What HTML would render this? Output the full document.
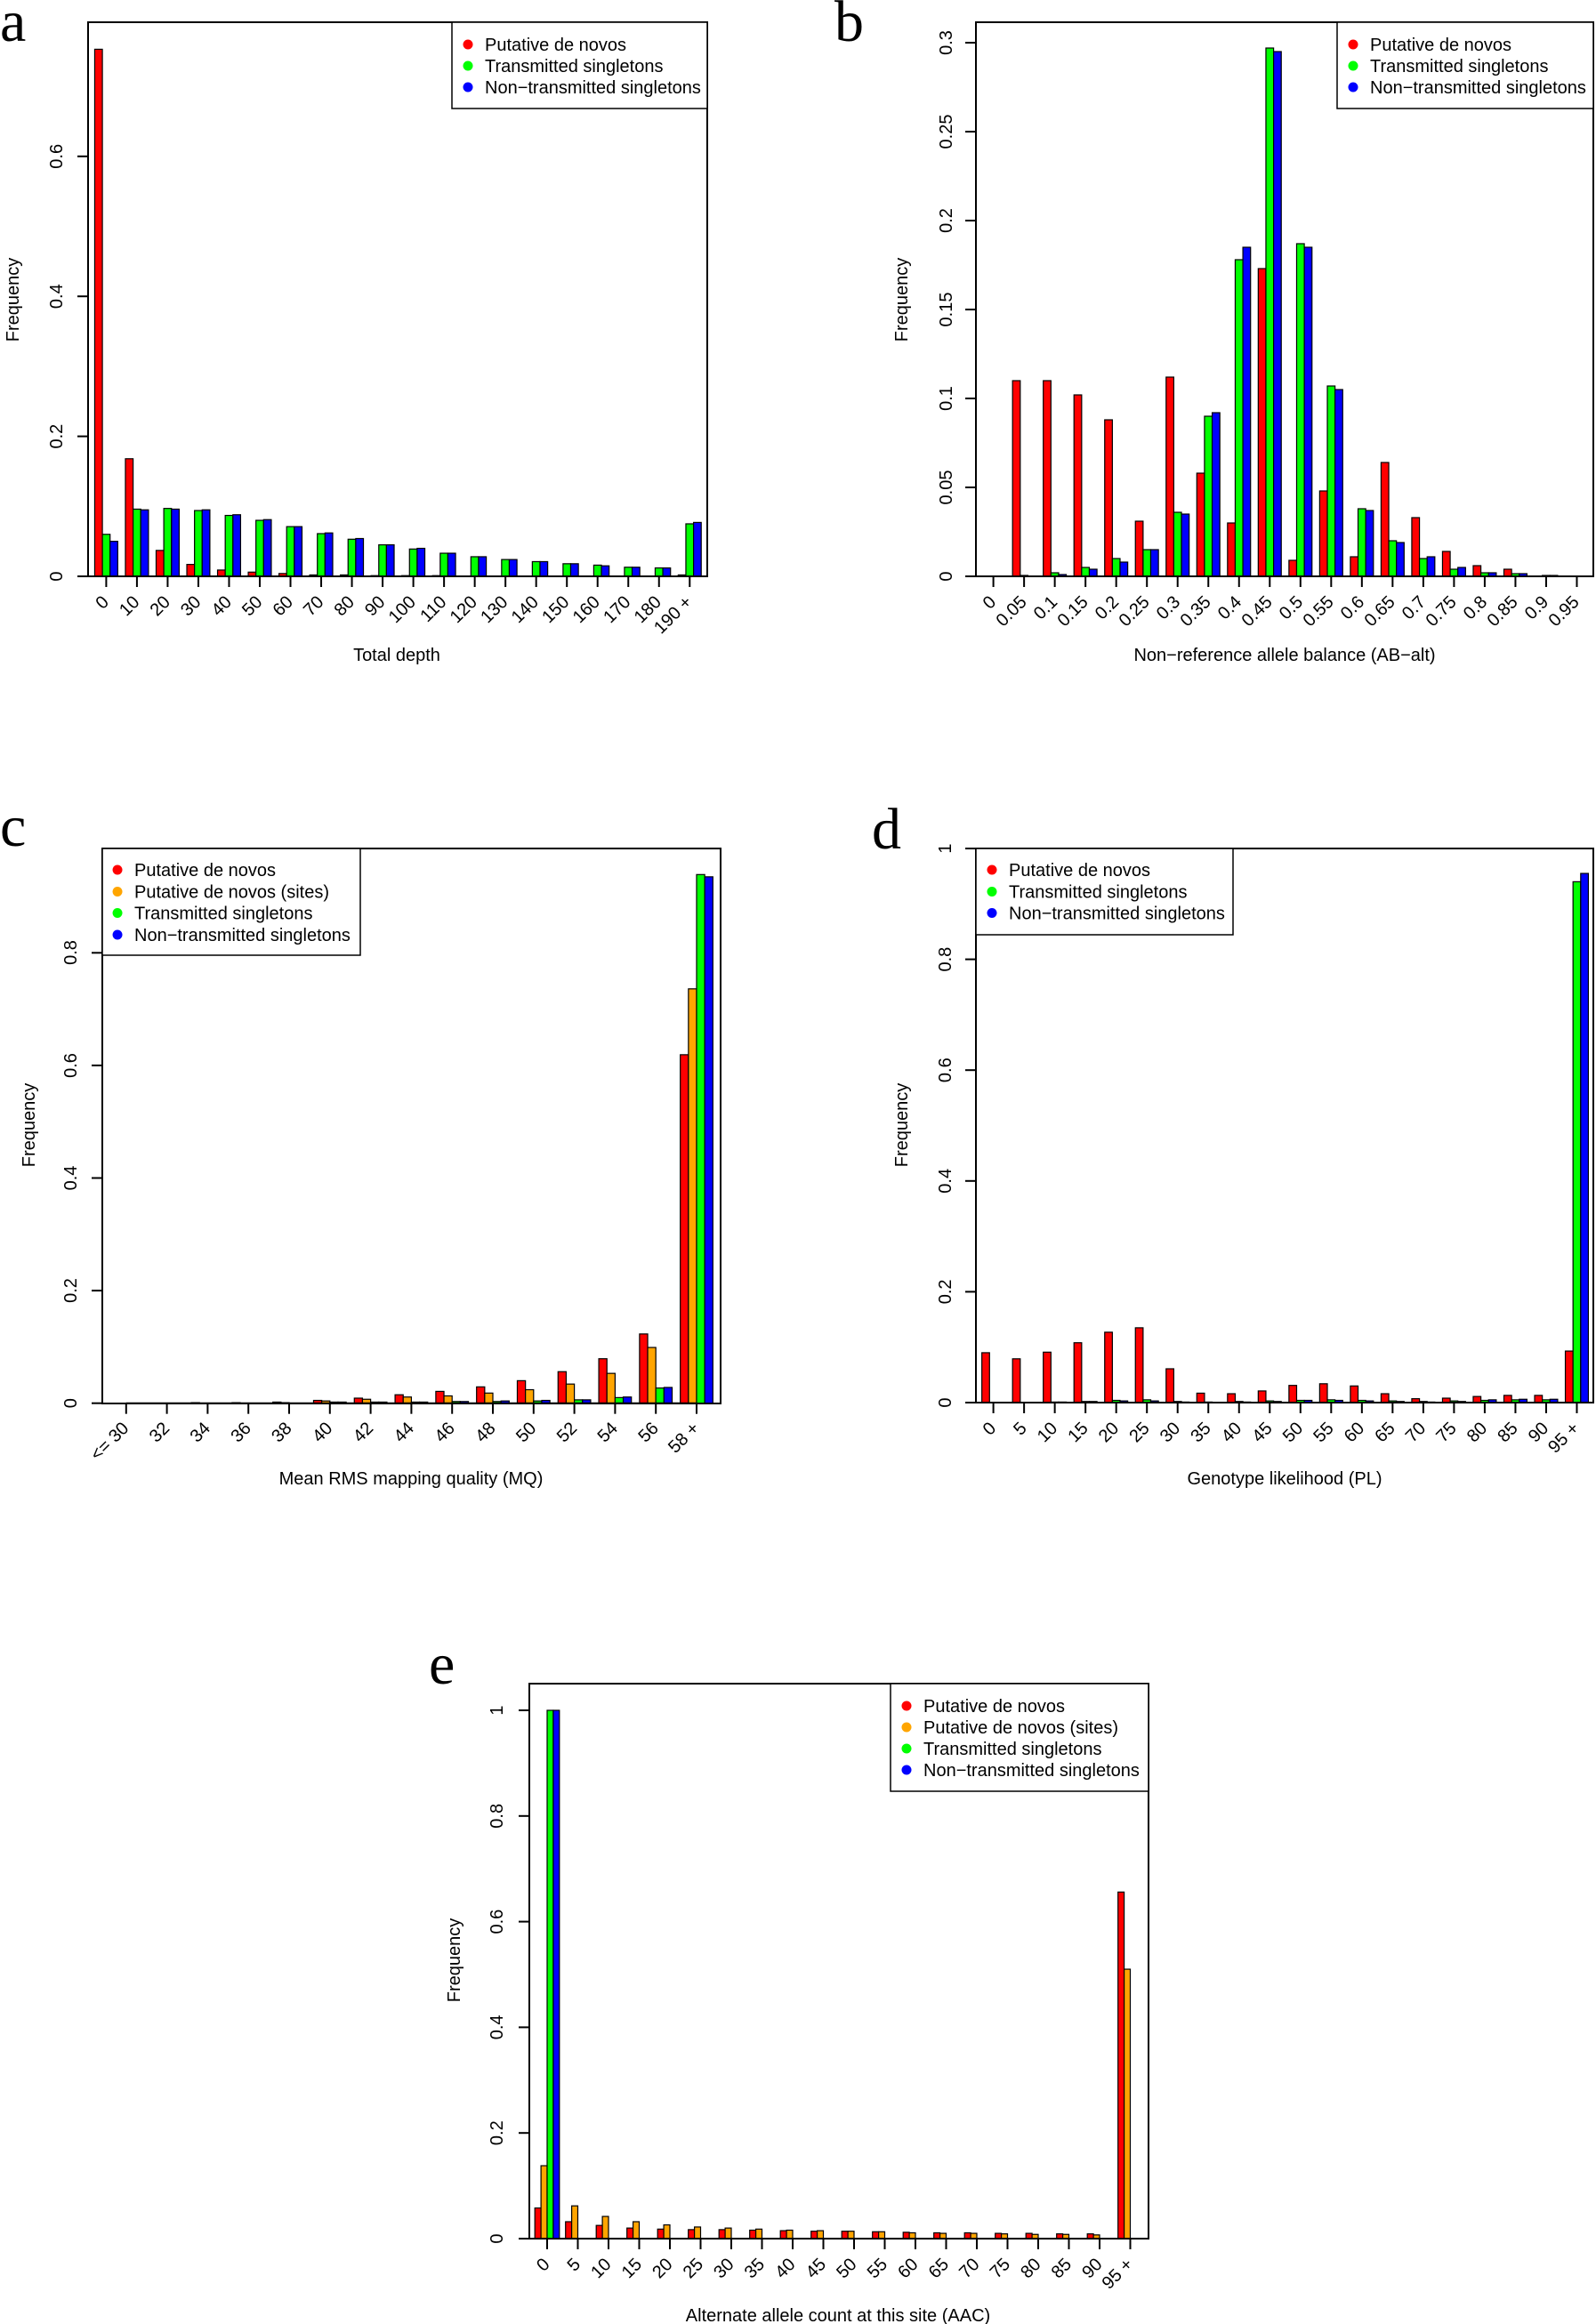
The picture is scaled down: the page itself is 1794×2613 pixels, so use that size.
<!DOCTYPE html>
<html><head><meta charset="utf-8"><style>
html,body{margin:0;padding:0;background:#fff;}
svg{display:block;}
text{font-family:"Liberation Sans",Arial,sans-serif;font-size:20px;fill:#000;}
.xt{text-anchor:end;}
.yt{text-anchor:middle;}
.mid{text-anchor:middle;}
.big{font-family:"Liberation Serif",serif;font-size:66px;}
</style></head><body>
<svg id="s" width="1794" height="2613" viewBox="0 0 1794 2613" xmlns="http://www.w3.org/2000/svg">
<rect width="1794" height="2613" fill="#fff"/>
<g id="bars"></g>
<g fill="none" stroke="#000" stroke-width="2">
<rect x="99" y="25" width="696" height="623"/>
<rect x="1097" y="25" width="694" height="623"/>
<rect x="115" y="954" width="695" height="624"/>
<rect x="1097" y="954" width="694" height="623"/>
<rect x="595" y="1893" width="696" height="624"/>
</g>
<!-- panel letters -->
<text class="big" x="0" y="46">a</text>
<text class="big" x="938" y="46">b</text>
<text class="big" x="0" y="951">c</text>
<text class="big" x="980" y="954">d</text>
<text class="big" x="482" y="1893">e</text>

<!-- legends -->
<g fill="#fff" stroke="#000" stroke-width="1.5">
<rect x="508" y="25" width="287" height="97"/>
<rect x="1503" y="25" width="288" height="97"/>
<rect x="115" y="954" width="290" height="120"/>
<rect x="1097" y="954" width="289" height="97"/>
<rect x="1001" y="1893" width="290" height="121"/>
</g>
<g>
<circle cx="526" cy="50" r="5.5" fill="#f00"/><circle cx="526" cy="74" r="5.5" fill="#0f0"/><circle cx="526" cy="98" r="5.5" fill="#00f"/>
<circle cx="1521" cy="50" r="5.5" fill="#f00"/><circle cx="1521" cy="74" r="5.5" fill="#0f0"/><circle cx="1521" cy="98" r="5.5" fill="#00f"/>
<circle cx="132" cy="978" r="5.5" fill="#f00"/><circle cx="132" cy="1002.5" r="5.5" fill="#ffa500"/><circle cx="132" cy="1026.5" r="5.5" fill="#0f0"/><circle cx="132" cy="1051" r="5.5" fill="#00f"/>
<circle cx="1115" cy="978" r="5.5" fill="#f00"/><circle cx="1115" cy="1002.5" r="5.5" fill="#0f0"/><circle cx="1115" cy="1026.5" r="5.5" fill="#00f"/>
<circle cx="1019" cy="1918" r="5.5" fill="#f00"/><circle cx="1019" cy="1942" r="5.5" fill="#ffa500"/><circle cx="1019" cy="1966" r="5.5" fill="#0f0"/><circle cx="1019" cy="1990" r="5.5" fill="#00f"/>
</g>
<text x="545" y="57">Putative de novos</text>
<text x="545" y="81">Transmitted singletons</text>
<text x="545" y="105">Non−transmitted singletons</text>
<text x="1540" y="57">Putative de novos</text>
<text x="1540" y="81">Transmitted singletons</text>
<text x="1540" y="105">Non−transmitted singletons</text>
<text x="151" y="985">Putative de novos</text>
<text x="151" y="1009.5">Putative de novos (sites)</text>
<text x="151" y="1033.5">Transmitted singletons</text>
<text x="151" y="1058">Non−transmitted singletons</text>
<text x="1134" y="985">Putative de novos</text>
<text x="1134" y="1009.5">Transmitted singletons</text>
<text x="1134" y="1033.5">Non−transmitted singletons</text>
<text x="1038" y="1925">Putative de novos</text>
<text x="1038" y="1949">Putative de novos (sites)</text>
<text x="1038" y="1973">Transmitted singletons</text>
<text x="1038" y="1997">Non−transmitted singletons</text>

<!-- axis titles -->
<text class="mid" transform="translate(21,337) rotate(-90)">Frequency</text>
<text class="mid" transform="translate(1020,337) rotate(-90)">Frequency</text>
<text class="mid" transform="translate(39,1265) rotate(-90)">Frequency</text>
<text class="mid" transform="translate(1020,1265) rotate(-90)">Frequency</text>
<text class="mid" transform="translate(517,2204) rotate(-90)">Frequency</text>
<text class="mid" x="446" y="743">Total depth</text>
<text class="mid" x="1444" y="743">Non−reference allele balance (AB−alt)</text>
<text class="mid" x="462" y="1669">Mean RMS mapping quality (MQ)</text>
<text class="mid" x="1444" y="1669">Genotype likelihood (PL)</text>
<text class="mid" x="942" y="2610">Alternate allele count at this site (AAC)</text>

<!-- y tick labels -->
<text class="yt" transform="translate(70,648) rotate(-90)">0</text>
<text class="yt" transform="translate(70,490.6) rotate(-90)">0.2</text>
<text class="yt" transform="translate(70,333.2) rotate(-90)">0.4</text>
<text class="yt" transform="translate(70,175.8) rotate(-90)">0.6</text>

<text class="yt" transform="translate(1070,648) rotate(-90)">0</text>
<text class="yt" transform="translate(1070,548) rotate(-90)">0.05</text>
<text class="yt" transform="translate(1070,448) rotate(-90)">0.1</text>
<text class="yt" transform="translate(1070,348) rotate(-90)">0.15</text>
<text class="yt" transform="translate(1070,248) rotate(-90)">0.2</text>
<text class="yt" transform="translate(1070,148) rotate(-90)">0.25</text>
<text class="yt" transform="translate(1070,48) rotate(-90)">0.3</text>

<text class="yt" transform="translate(86,1577.7) rotate(-90)">0</text>
<text class="yt" transform="translate(86,1451) rotate(-90)">0.2</text>
<text class="yt" transform="translate(86,1324.5) rotate(-90)">0.4</text>
<text class="yt" transform="translate(86,1198) rotate(-90)">0.6</text>
<text class="yt" transform="translate(86,1071) rotate(-90)">0.8</text>

<text class="yt" transform="translate(1069,1577) rotate(-90)">0</text>
<text class="yt" transform="translate(1069,1452.4) rotate(-90)">0.2</text>
<text class="yt" transform="translate(1069,1327.8) rotate(-90)">0.4</text>
<text class="yt" transform="translate(1069,1203.2) rotate(-90)">0.6</text>
<text class="yt" transform="translate(1069,1078.6) rotate(-90)">0.8</text>
<text class="yt" transform="translate(1069,954) rotate(-90)">1</text>

<text class="yt" transform="translate(565,2517) rotate(-90)">0</text>
<text class="yt" transform="translate(565,2398.2) rotate(-90)">0.2</text>
<text class="yt" transform="translate(565,2279.4) rotate(-90)">0.4</text>
<text class="yt" transform="translate(565,2160.6) rotate(-90)">0.6</text>
<text class="yt" transform="translate(565,2041.8) rotate(-90)">0.8</text>
<text class="yt" transform="translate(565,1923) rotate(-90)">1</text>

<!-- x tick labels a -->
<text class="xt" transform="translate(123.4,678) rotate(-45)">0</text>
<text class="xt" transform="translate(157.9,678) rotate(-45)">10</text>
<text class="xt" transform="translate(192.4,678) rotate(-45)">20</text>
<text class="xt" transform="translate(226.9,678) rotate(-45)">30</text>
<text class="xt" transform="translate(261.4,678) rotate(-45)">40</text>
<text class="xt" transform="translate(295.9,678) rotate(-45)">50</text>
<text class="xt" transform="translate(330.4,678) rotate(-45)">60</text>
<text class="xt" transform="translate(364.9,678) rotate(-45)">70</text>
<text class="xt" transform="translate(399.4,678) rotate(-45)">80</text>
<text class="xt" transform="translate(433.9,678) rotate(-45)">90</text>
<text class="xt" transform="translate(468.4,678) rotate(-45)">100</text>
<text class="xt" transform="translate(502.9,678) rotate(-45)">110</text>
<text class="xt" transform="translate(537.4,678) rotate(-45)">120</text>
<text class="xt" transform="translate(571.9,678) rotate(-45)">130</text>
<text class="xt" transform="translate(606.4,678) rotate(-45)">140</text>
<text class="xt" transform="translate(640.9,678) rotate(-45)">150</text>
<text class="xt" transform="translate(675.4,678) rotate(-45)">160</text>
<text class="xt" transform="translate(709.9,678) rotate(-45)">170</text>
<text class="xt" transform="translate(744.4,678) rotate(-45)">180</text>
<text class="xt" transform="translate(778.9,678) rotate(-45)">190 +</text>
<!-- b -->
<text class="xt" transform="translate(1120.6,678) rotate(-45)">0</text>
<text class="xt" transform="translate(1155.1,678) rotate(-45)">0.05</text>
<text class="xt" transform="translate(1189.6,678) rotate(-45)">0.1</text>
<text class="xt" transform="translate(1224.1,678) rotate(-45)">0.15</text>
<text class="xt" transform="translate(1258.6,678) rotate(-45)">0.2</text>
<text class="xt" transform="translate(1293.1,678) rotate(-45)">0.25</text>
<text class="xt" transform="translate(1327.6,678) rotate(-45)">0.3</text>
<text class="xt" transform="translate(1362.1,678) rotate(-45)">0.35</text>
<text class="xt" transform="translate(1396.6,678) rotate(-45)">0.4</text>
<text class="xt" transform="translate(1431.1,678) rotate(-45)">0.45</text>
<text class="xt" transform="translate(1465.6,678) rotate(-45)">0.5</text>
<text class="xt" transform="translate(1500.1,678) rotate(-45)">0.55</text>
<text class="xt" transform="translate(1534.6,678) rotate(-45)">0.6</text>
<text class="xt" transform="translate(1569.1,678) rotate(-45)">0.65</text>
<text class="xt" transform="translate(1603.6,678) rotate(-45)">0.7</text>
<text class="xt" transform="translate(1638.1,678) rotate(-45)">0.75</text>
<text class="xt" transform="translate(1672.6,678) rotate(-45)">0.8</text>
<text class="xt" transform="translate(1707.1,678) rotate(-45)">0.85</text>
<text class="xt" transform="translate(1741.6,678) rotate(-45)">0.9</text>
<text class="xt" transform="translate(1776.1,678) rotate(-45)">0.95</text>
<!-- c -->
<text class="xt" transform="translate(145.8,1607) rotate(-45)">&lt;= 30</text>
<text class="xt" transform="translate(191.6,1607) rotate(-45)">32</text>
<text class="xt" transform="translate(237.4,1607) rotate(-45)">34</text>
<text class="xt" transform="translate(283.2,1607) rotate(-45)">36</text>
<text class="xt" transform="translate(329,1607) rotate(-45)">38</text>
<text class="xt" transform="translate(374.8,1607) rotate(-45)">40</text>
<text class="xt" transform="translate(420.6,1607) rotate(-45)">42</text>
<text class="xt" transform="translate(466.4,1607) rotate(-45)">44</text>
<text class="xt" transform="translate(512.2,1607) rotate(-45)">46</text>
<text class="xt" transform="translate(558,1607) rotate(-45)">48</text>
<text class="xt" transform="translate(603.8,1607) rotate(-45)">50</text>
<text class="xt" transform="translate(649.6,1607) rotate(-45)">52</text>
<text class="xt" transform="translate(695.4,1607) rotate(-45)">54</text>
<text class="xt" transform="translate(741.2,1607) rotate(-45)">56</text>
<text class="xt" transform="translate(787,1607) rotate(-45)">58 +</text>
<!-- d -->
<text class="xt" transform="translate(1120.6,1607) rotate(-45)">0</text>
<text class="xt" transform="translate(1155.1,1607) rotate(-45)">5</text>
<text class="xt" transform="translate(1189.6,1607) rotate(-45)">10</text>
<text class="xt" transform="translate(1224.1,1607) rotate(-45)">15</text>
<text class="xt" transform="translate(1258.6,1607) rotate(-45)">20</text>
<text class="xt" transform="translate(1293.1,1607) rotate(-45)">25</text>
<text class="xt" transform="translate(1327.6,1607) rotate(-45)">30</text>
<text class="xt" transform="translate(1362.1,1607) rotate(-45)">35</text>
<text class="xt" transform="translate(1396.6,1607) rotate(-45)">40</text>
<text class="xt" transform="translate(1431.1,1607) rotate(-45)">45</text>
<text class="xt" transform="translate(1465.6,1607) rotate(-45)">50</text>
<text class="xt" transform="translate(1500.1,1607) rotate(-45)">55</text>
<text class="xt" transform="translate(1534.6,1607) rotate(-45)">60</text>
<text class="xt" transform="translate(1569.1,1607) rotate(-45)">65</text>
<text class="xt" transform="translate(1603.6,1607) rotate(-45)">70</text>
<text class="xt" transform="translate(1638.1,1607) rotate(-45)">75</text>
<text class="xt" transform="translate(1672.6,1607) rotate(-45)">80</text>
<text class="xt" transform="translate(1707.1,1607) rotate(-45)">85</text>
<text class="xt" transform="translate(1741.6,1607) rotate(-45)">90</text>
<text class="xt" transform="translate(1776.1,1607) rotate(-45)">95 +</text>
<!-- e -->
<text class="xt" transform="translate(619,2547) rotate(-45)">0</text>
<text class="xt" transform="translate(653.5,2547) rotate(-45)">5</text>
<text class="xt" transform="translate(688,2547) rotate(-45)">10</text>
<text class="xt" transform="translate(722.5,2547) rotate(-45)">15</text>
<text class="xt" transform="translate(757,2547) rotate(-45)">20</text>
<text class="xt" transform="translate(791.5,2547) rotate(-45)">25</text>
<text class="xt" transform="translate(826,2547) rotate(-45)">30</text>
<text class="xt" transform="translate(860.5,2547) rotate(-45)">35</text>
<text class="xt" transform="translate(895,2547) rotate(-45)">40</text>
<text class="xt" transform="translate(929.5,2547) rotate(-45)">45</text>
<text class="xt" transform="translate(964,2547) rotate(-45)">50</text>
<text class="xt" transform="translate(998.5,2547) rotate(-45)">55</text>
<text class="xt" transform="translate(1033,2547) rotate(-45)">60</text>
<text class="xt" transform="translate(1067.5,2547) rotate(-45)">65</text>
<text class="xt" transform="translate(1102,2547) rotate(-45)">70</text>
<text class="xt" transform="translate(1136.5,2547) rotate(-45)">75</text>
<text class="xt" transform="translate(1171,2547) rotate(-45)">80</text>
<text class="xt" transform="translate(1205.5,2547) rotate(-45)">85</text>
<text class="xt" transform="translate(1240,2547) rotate(-45)">90</text>
<text class="xt" transform="translate(1274.5,2547) rotate(-45)">95 +</text>
</svg>
<script>
(function(){
var NS="http://www.w3.org/2000/svg",g=document.getElementById("bars");
function el(t,a){var e=document.createElementNS(NS,t);for(var k in a)e.setAttribute(k,a[k]);g.appendChild(e);}
var R="#ff0000",O="#ffa500",G="#00ff00",B="#0000ff";
function panel(p){
 var n=p.cols.length,u=p.u,sp=(n+1)*u;
 p.data.forEach(function(d,i){
  var xc=p.x0+i*sp,l=xc-n*u/2;
  for(var j=0;j<n;j++){var v=d[j]||0,h=v*p.s;
   el("rect",{x:l+j*u,y:p.z-h,width:u,height:h,fill:p.cols[j],stroke:"#000","stroke-width":1.2});}
  el("line",{x1:xc,y1:p.z,x2:xc,y2:p.z+12,stroke:"#000","stroke-width":2});
 });
 el("line",{x1:p.x0,y1:p.z,x2:p.x0+(p.data.length-1)*sp,y2:p.z,stroke:"#000","stroke-width":2});
 p.yt.forEach(function(v){var y=p.z-v*p.s;el("line",{x1:p.bx-12,y1:y,x2:p.bx,y2:y,stroke:"#000","stroke-width":2});});
 el("line",{x1:p.bx,y1:p.z,x2:p.bx,y2:p.z-p.yt[p.yt.length-1]*p.s,stroke:"#000","stroke-width":2});
}
panel({x0:119.4,u:8.63,z:648,s:787,bx:99,cols:[R,G,B],yt:[0,.2,.4,.6],data:[
[.753,.06,.05],[.168,.096,.095],[.037,.097,.096],[.017,.094,.095],[.009,.087,.088],[.006,.080,.081],[.004,.071,.071],[.002,.061,.062],[.002,.053,.054],[.001,.045,.045],[.001,.039,.040],[.001,.033,.033],[.0005,.028,.028],[.0005,.024,.024],[0,.021,.021],[0,.018,.018],[0,.016,.015],[0,.013,.013],[0,.012,.012],[.002,.075,.077]]});
panel({x0:1116.6,u:8.63,z:648,s:2000,bx:1097,cols:[R,G,B],yt:[0,.05,.1,.15,.2,.25,.3],data:[
[0,0,0],[.110,.0005,0],[.110,.002,.001],[.102,.005,.004],[.088,.010,.008],[.031,.015,.015],[.112,.036,.035],[.058,.090,.092],[.030,.178,.185],[.173,.297,.295],[.009,.187,.185],[.048,.107,.105],[.011,.038,.037],[.064,.020,.019],[.033,.010,.011],[.014,.004,.005],[.006,.002,.002],[.004,.0015,.0015],[0,.0005,.0005],[0,0,0]]});
panel({x0:141.8,u:9.16,z:1577.7,s:633,bx:115,cols:[R,O,G,B],yt:[0,.2,.4,.6,.8],data:[
[0,0,0,0],[0,0,0,0],[.001,0,0,0],[.001,0,0,0],[.002,.001,0,0],[.005,.004,.002,.002],[.009,.007,.002,.002],[.015,.011,.002,.002],[.021,.013,.003,.003],[.029,.018,.003,.004],[.040,.024,.004,.005],[.056,.034,.006,.006],[.079,.053,.010,.011],[.123,.099,.027,.028],[.619,.736,.939,.935]]});
panel({x0:1116.6,u:8.63,z:1577,s:623,bx:1097,cols:[R,G,B],yt:[0,.2,.4,.6,.8,1],data:[
[.09,0,0],[.079,0,0],[.091,.001,.001],[.108,.002,.002],[.127,.004,.003],[.135,.005,.003],[.061,.002,.001],[.017,.001,0],[.016,.002,.001],[.021,.003,.002],[.031,.004,.004],[.034,.005,.004],[.030,.004,.003],[.016,.003,.002],[.007,.002,.001],[.008,.003,.002],[.011,.004,.005],[.013,.005,.006],[.013,.005,.006],[.093,.94,.955]]});
panel({x0:615,u:6.9,z:2517,s:594,bx:595,cols:[R,O,G,B],yt:[0,.2,.4,.6,.8,1],data:[
[.058,.138,1,1],[.032,.062,0,0],[.025,.042,0,0],[.020,.032,0,0],[.018,.026,0,0],[.017,.022,0,0],[.017,.020,0,0],[.016,.018,0,0],[.015,.016,0,0],[.014,.015,0,0],[.014,.014,0,0],[.013,.013,0,0],[.012,.011,0,0],[.011,.010,0,0],[.011,.010,0,0],[.010,.009,0,0],[.010,.008,0,0],[.009,.008,0,0],[.009,.007,0,0],[.656,.510,0,0]]});
})();
</script>
</body></html>
